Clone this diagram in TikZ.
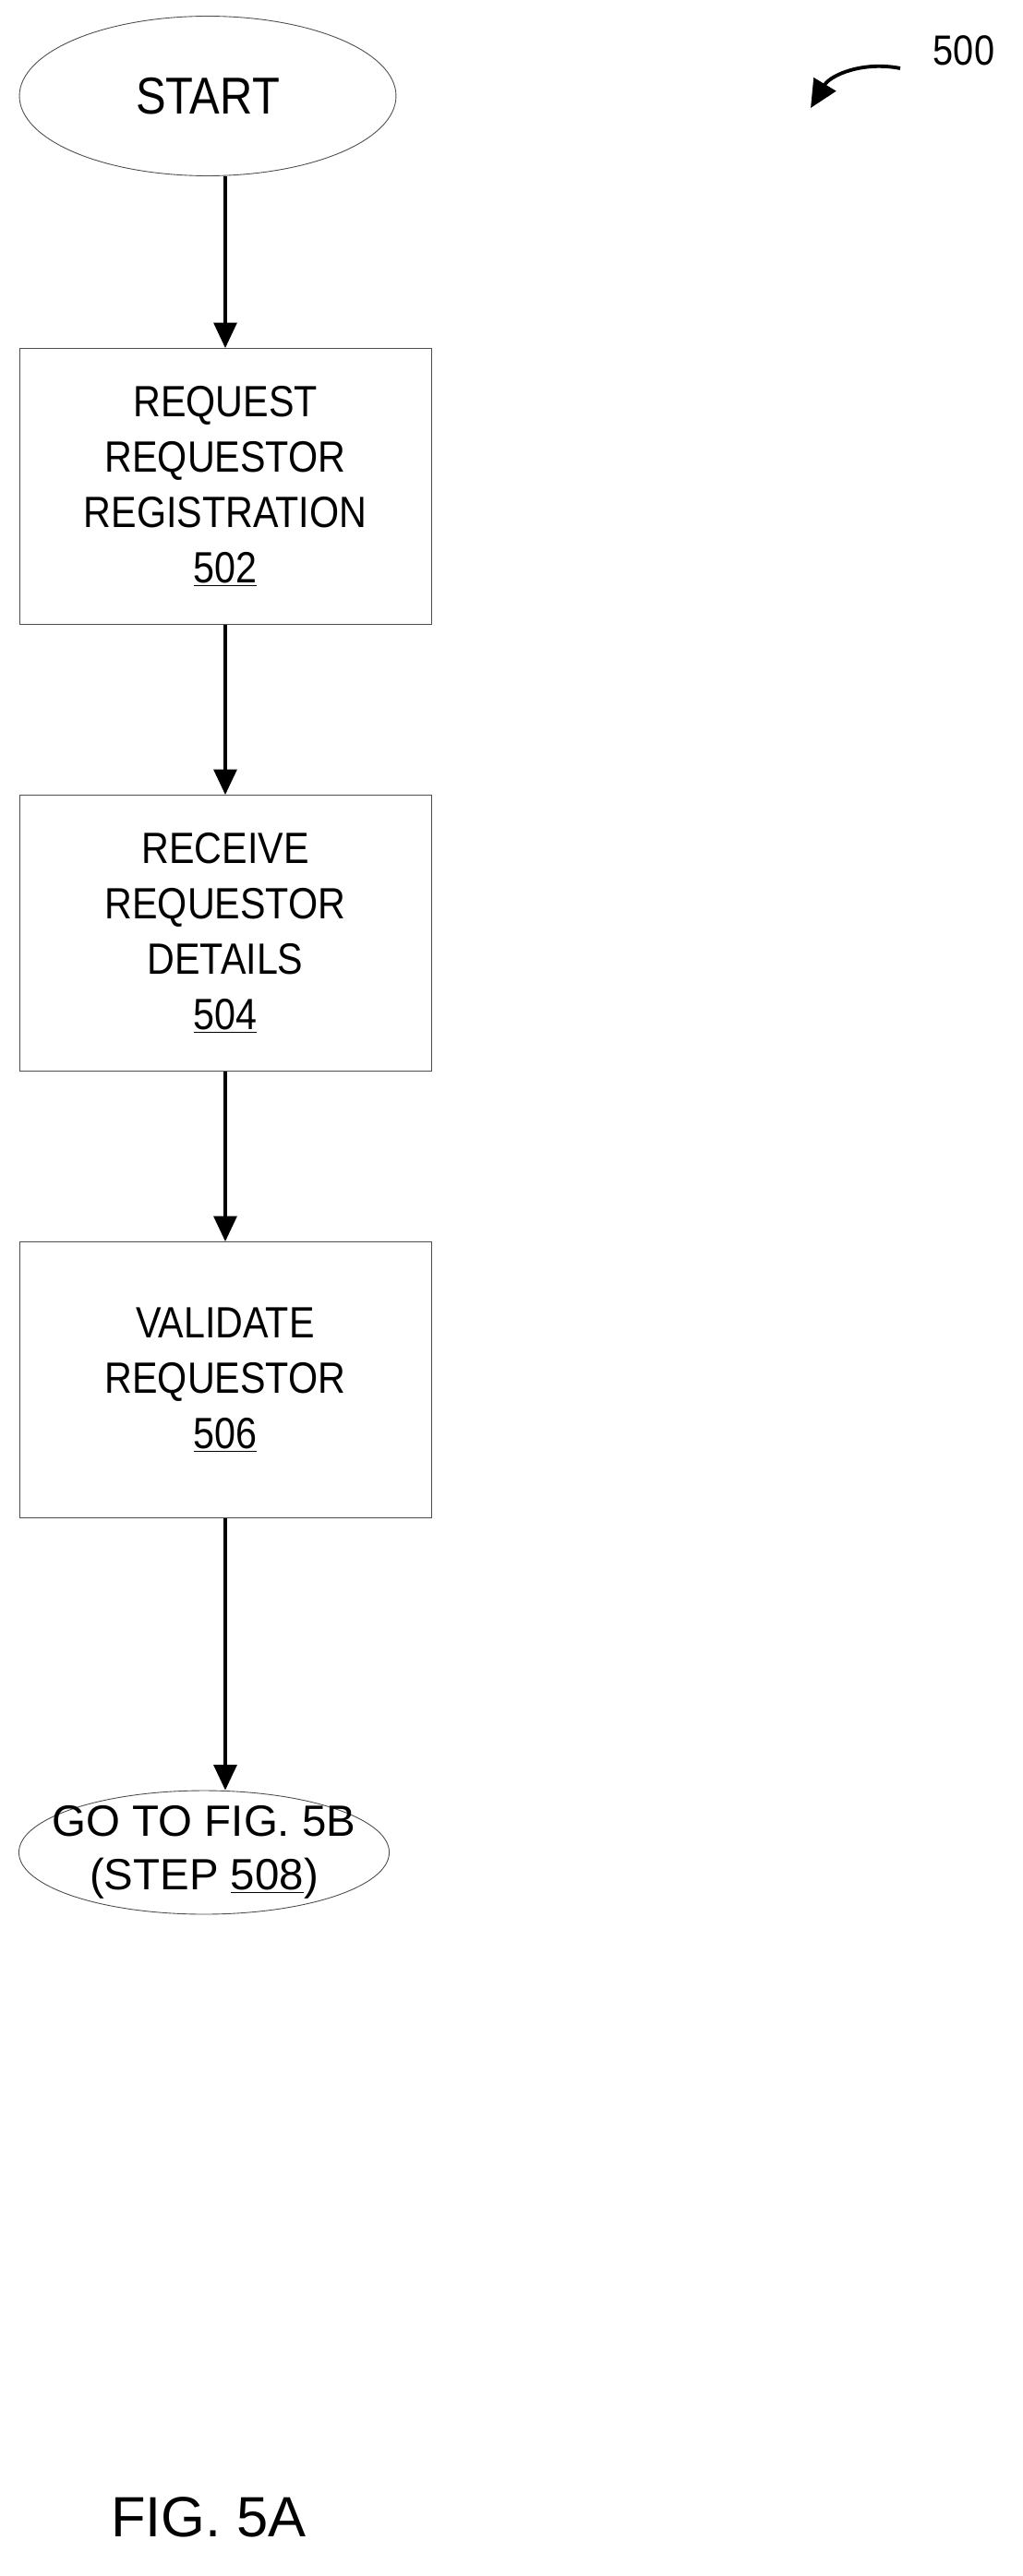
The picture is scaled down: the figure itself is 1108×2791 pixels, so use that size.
\documentclass[tikz,border=0pt]{standalone}
\usepackage{fontspec}
\setmainfont{Liberation Sans}
\newfontfamily\narrowfont[FakeStretch=0.87]{Liberation Sans}
\usetikzlibrary{shapes.geometric,arrows.meta}

\begin{document}
\begin{tikzpicture}[x=0.02cm,y=-0.02cm,
	procbox/.style={draw=black!70,line width=0.5pt,minimum width=8.92cm,minimum height=5.98cm,align=center,font=\narrowfont\fontsize{27}{34}\selectfont},
	term/.style={draw=black!70,line width=0.5pt,ellipse,align=center},
	flow/.style={-{Triangle[length=0.55cm,width=0.5cm]},line width=1.8pt}]
	
	\useasboundingbox (0,0) rectangle (1108,2791);
	
	\node[term,minimum width=8.16cm,minimum height=3.46cm,font=\narrowfont\fontsize{32}{36}\selectfont] (start) at (225,104) {START};
	
	\node[procbox] (s502) at (244,527) {REQUEST\\REQUESTOR\\REGISTRATION\\\underline{502}};
	\node[procbox] (s504) at (244,1011) {RECEIVE\\REQUESTOR\\DETAILS\\\underline{504}};
	\node[procbox] (s506) at (244,1495) {VALIDATE\\REQUESTOR\\\underline{506}};
	
	\node[term,minimum width=8cm,minimum height=2.68cm,inner xsep=-0.45cm,inner ysep=-0.4cm,font=\fontsize{27}{33}\selectfont] (goto) at (221,2007) {GO TO FIG. 5B\\(STEP \underline{508})};
	
	\node[font=\narrowfont\fontsize{26}{30}\selectfont] (ref) at (1044,55) {500};
	\coordinate (refa) at (975,74);
	\coordinate (refb) at (878,117);
	\draw[-{Triangle[length=0.6cm,width=0.55cm]},line width=2.2pt] (refa) to[bend right=35] (refb);
	
	\draw[flow] (start.south -| s502.north) -- (s502.north);
	\draw[flow] (s502) -- (s504);
	\draw[flow] (s504) -- (s506);
	\draw[flow] (s506.south) -- (s506.south |- goto.north);
	
	\node[font=\fontsize{35}{40}\selectfont] (fig) at (226,2727) {FIG. 5A};
	
\end{tikzpicture}
\end{document}
